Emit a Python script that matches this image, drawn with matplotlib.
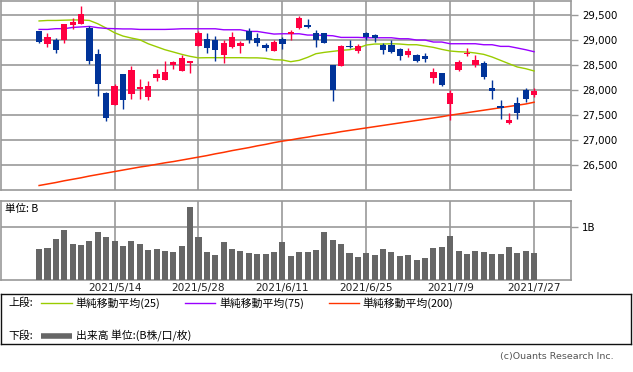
import matplotlib
matplotlib.use('Agg')
import matplotlib.pyplot as plt

# trading days (2021)
dates = ['4/27', '4/28', '4/30', '5/6', '5/7', '5/10', '5/11', '5/12', '5/13', '5/14',
         '5/17', '5/18', '5/19', '5/20', '5/21', '5/24', '5/25', '5/26', '5/27', '5/28',
         '5/31', '6/1', '6/2', '6/3', '6/4', '6/7', '6/8', '6/9', '6/10', '6/11',
         '6/14', '6/15', '6/16', '6/17', '6/18', '6/21', '6/22', '6/23', '6/24', '6/25',
         '6/28', '6/29', '6/30', '7/1', '7/2', '7/5', '7/6', '7/7', '7/8', '7/9',
         '7/12', '7/13', '7/14', '7/15', '7/16', '7/19', '7/20', '7/21', '7/26', '7/27']
date_labels = ['2021/' + d for d in dates]
tick_dates = ['2021/5/14', '2021/5/28', '2021/6/11', '2021/6/25', '2021/7/9', '2021/7/27']

opens = [29180, 28930, 29000, 29000, 29300, 29330, 29240, 28720, 27940, 27710,
         28320, 27920, 28030, 27870, 28240, 28210, 28500, 28390, 28550, 28890,
         29020, 29000, 28710, 28860, 28890, 29180, 29040, 28900, 28790, 29020,
         29120, 29240, 29300, 29140, 29140, 28500, 28490, 28880, 28790, 29140,
         29100, 28910, 28910, 28820, 28700, 28700, 28680, 28240, 28340, 27720,
         28400, 28720, 28500, 28540, 28040, 27670, 27350, 27740, 28000, 27910]
highs = [29190, 29140, 29050, 29330, 29440, 29690, 29280, 28820, 27960, 28130,
         28330, 28480, 28220, 28180, 28420, 28580, 28590, 28700, 28590, 29180,
         29140, 29080, 29000, 29160, 28990, 29240, 29140, 28940, 29000, 29060,
         29200, 29490, 29420, 29200, 29150, 28500, 28900, 29000, 28920, 29160,
         29130, 28940, 29000, 28840, 28840, 28720, 28740, 28440, 28350, 28000,
         28600, 28840, 28700, 28580, 28200, 27800, 27550, 27870, 28040, 28040]
lows = [28950, 28860, 28750, 28950, 29220, 29320, 28530, 27890, 27390, 27700,
        27630, 27830, 27820, 27800, 28180, 28200, 28420, 28380, 28350, 28880,
        28750, 28580, 28550, 28850, 28750, 28950, 28890, 28780, 28780, 28830,
        29000, 29220, 29240, 28870, 28940, 27790, 28480, 28840, 28750, 29000,
        28960, 28720, 28750, 28600, 28670, 28560, 28560, 28140, 28090, 27410,
        28390, 28690, 28460, 28220, 27830, 27430, 27330, 27430, 27770, 27870]
closes = [28960, 29060, 28800, 29320, 29360, 29520, 28580, 28130, 27450, 28080,
          27810, 28400, 28040, 28090, 28320, 28360, 28570, 28640, 28560, 29150,
          28850, 28800, 28940, 29060, 28940, 29000, 28940, 28850, 28960, 28930,
          29160, 29440, 29260, 29000, 28950, 28010, 28880, 28860, 28880, 29060,
          29040, 28800, 28760, 28690, 28780, 28580, 28620, 28360, 28100, 27940,
          28560, 28740, 28600, 28260, 27990, 27650, 27400, 27550, 27830, 27980]

ma25 = [29390, 29400, 29400, 29405, 29410, 29410, 29400, 29333, 29247, 29153,
        29087, 29047, 29013, 28933, 28873, 28813, 28767, 28720, 28680, 28650,
        28653, 28653, 28653, 28653, 28653, 28650, 28650, 28640, 28613, 28607,
        28573, 28600, 28660, 28733, 28760, 28780, 28800, 28813, 28845, 28907,
        28927, 28927, 28933, 28927, 28913, 28913, 28887, 28860, 28820, 28787,
        28773, 28767, 28747, 28720, 28667, 28600, 28533, 28467, 28433, 28387]
ma75 = [29220, 29220, 29235, 29235, 29260, 29270, 29280, 29255, 29240, 29235,
        29230, 29230, 29220, 29220, 29220, 29220, 29225, 29233, 29233, 29233,
        29233, 29233, 29213, 29213, 29213, 29180, 29180, 29153, 29127, 29133,
        29133, 29133, 29107, 29107, 29100, 29093, 29060, 29060, 29060, 29053,
        29053, 29053, 29053, 29033, 29033, 29007, 29007, 28967, 28967, 28933,
        28933, 28933, 28933, 28913, 28913, 28880, 28880, 28847, 28813, 28773]
ma200 = [26090, 26120, 26150, 26185, 26215, 26245, 26280, 26310, 26340, 26370,
         26400, 26430, 26460, 26485, 26515, 26545, 26570, 26600, 26630, 26660,
         26690, 26725, 26755, 26790, 26820, 26850, 26885, 26915, 26950, 26980,
         27005, 27035, 27060, 27090, 27115, 27140, 27170, 27195, 27220, 27245,
         27270, 27295, 27320, 27345, 27370, 27395, 27420, 27445, 27470, 27500,
         27525, 27550, 27575, 27600, 27625, 27650, 27675, 27700, 27725, 27760]

# volume in billions of shares
volume = [0.595, 0.614, 0.785, 0.956, 0.690, 0.671, 0.747, 0.918, 0.823, 0.747,
          0.652, 0.747, 0.690, 0.576, 0.595, 0.557, 0.538, 0.652, 1.392, 0.823,
          0.538, 0.481, 0.728, 0.595, 0.557, 0.519, 0.500, 0.500, 0.538, 0.728,
          0.462, 0.538, 0.538, 0.576, 0.918, 0.766, 0.690, 0.519, 0.443, 0.519,
          0.475, 0.595, 0.532, 0.456, 0.475, 0.380, 0.424, 0.614, 0.633, 0.842,
          0.551, 0.500, 0.551, 0.532, 0.500, 0.500, 0.633, 0.519, 0.551, 0.519]

price_ticks = [26500, 27000, 27500, 28000, 28500, 29000, 29500]

W, H = 633, 372
UP = '#ff0040'
DOWN = '#003399'
GRID = '#999999'
JP = ['Noto Sans CJK JP', 'DejaVu Sans']


def rect(x0, y0, x1, y1):
    return [x0 / W, 1 - y1 / H, (x1 - x0) / W, (y1 - y0) / H]


fig = plt.figure(figsize=(W / 100, H / 100), dpi=100)
ax = fig.add_axes(rect(0.5, 0.5, 571, 190))
axv = fig.add_axes(rect(0.5, 201, 571, 280))

x = list(range(len(dates)))
tick_pos = [date_labels.index(d) for d in tick_dates]

# candles
bottoms = [min(o, c) for o, c in zip(opens, closes)]
heights = [max(abs(c - o), 35) for o, c in zip(opens, closes)]
colors = [UP if c >= o else DOWN for o, c in zip(opens, closes)]
ax.vlines(x, lows, highs, colors=colors, linewidth=1, zorder=3)
ax.bar(x, heights, bottom=bottoms, width=0.75, color=colors, linewidth=0, zorder=4)

ax.plot(x, ma25, color='#99cc00', linewidth=1, zorder=2)
ax.plot(x, ma75, color='#9900ff', linewidth=1, zorder=2)
ax.plot(x, ma200, color='#ff3300', linewidth=1.1, zorder=2)

ax.set_xlim(-4.6, 63.4)
ax.set_ylim(26000, 29800)
ax.set_yticks(price_ticks)
ax.set_yticklabels([f'{p:,}' for p in price_ticks])
ax.yaxis.tick_right()
ax.set_xticks(tick_pos)
ax.set_xticklabels([])
ax.tick_params(axis='x', length=0)
ax.tick_params(axis='y', length=5, width=1, color=GRID, labelsize=7.4, pad=3)
ax.grid(True, color=GRID, linewidth=1.2)
ax.set_axisbelow(True)
for s in ax.spines.values():
    s.set_color(GRID)
    s.set_linewidth(1.2)

# volume
axv.bar(x, volume, width=0.72, color='#666666', linewidth=0, zorder=3)
axv.set_xlim(-4.6, 63.4)
axv.set_ylim(0, 1.5)
axv.set_yticks([1.0])
axv.set_yticklabels(['1B'])
axv.yaxis.tick_right()
axv.set_xticks(tick_pos)
axv.set_xticklabels([date_labels[i] for i in tick_pos], fontsize=7.6, color='#222222')
axv.tick_params(axis='x', length=0, pad=2)
axv.tick_params(axis='y', length=5, width=1, color=GRID, labelsize=7.4, pad=3)
axv.grid(True, color=GRID, linewidth=1.2)
axv.set_axisbelow(True)
for s in axv.spines.values():
    s.set_color(GRID)
    s.set_linewidth(1.2)
axv.text(5 / 571, 0.9, '単位: B', transform=axv.transAxes, family=JP,
         fontsize=7.6, va='center', ha='left')

# legend box in pixel coordinates
axl = fig.add_axes(rect(0.5, 294, 631, 344))
axl.set_xlim(0, 630.5)
axl.set_ylim(50, 0)
axl.set_xticks([])
axl.set_yticks([])
for s in axl.spines.values():
    s.set_color('#111111')
    s.set_linewidth(1)

axl.text(8, 9, '上段:', family=JP, fontsize=7.8, va='center')
axl.plot([40, 71], [9, 9], color='#99cc00', linewidth=1)
axl.text(75, 9, '単純移動平均(25)', family=JP, fontsize=7.8, va='center')
axl.plot([184, 214], [9, 9], color='#9900ff', linewidth=1)
axl.text(219, 9, '単純移動平均(75)', family=JP, fontsize=7.8, va='center')
axl.plot([328, 358], [9, 9], color='#ff3300', linewidth=1)
axl.text(362, 9, '単純移動平均(200)', family=JP, fontsize=7.8, va='center')

axl.text(8, 42, '下段:', family=JP, fontsize=7.8, va='center')
axl.plot([40, 71], [42, 42], color='#666666', linewidth=4, solid_capstyle='butt')
axl.text(75, 42, '出来高 単位:(B株/口/枚)', family=JP, fontsize=7.8, va='center')

fig.text(614 / W, 1 - 357 / H, '(c)Ouants Research Inc.', fontsize=6.8,
         color='#555555', ha='right', va='center')

fig.savefig('out.png', dpi=100)
